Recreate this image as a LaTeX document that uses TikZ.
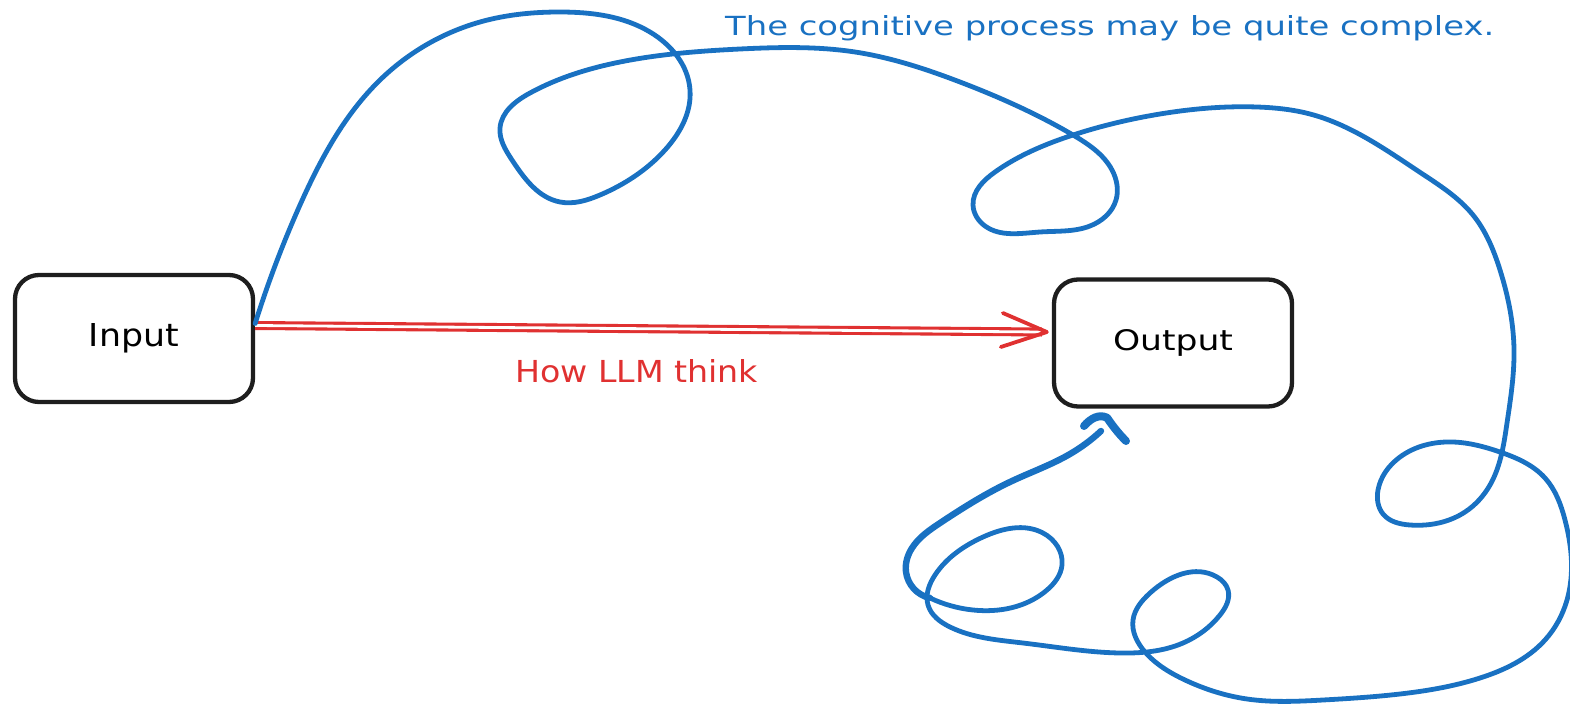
\documentclass[tikz,border=0pt]{standalone}
\usepackage{fontspec}
\setmainfont{DejaVu Sans}
\usepackage{graphicx}
\usetikzlibrary{hobby}
\definecolor{inkblack}{HTML}{1E1E1E}
\definecolor{penblue}{HTML}{1971C2}
\definecolor{penred}{HTML}{E03131}
\begin{document}
\begin{tikzpicture}[x=1pt,y=-1pt,
  box/.style={draw=inkblack, line width=4.3pt, rounded corners=24pt,
              minimum width=238pt, minimum height=127pt, inner sep=0pt, fill=white},
  thought/.style={draw=penblue, line width=4.8pt, line cap=round, line join=round, use Hobby shortcut},
  thoughtend/.style={thought, line width=6.4pt},
  direct/.style={draw=penred, double=white, double distance=2.8pt, line width=3.1pt},
  directtip/.style={draw=penred, line width=3.8pt, line cap=round, line join=round},
  caption/.style={anchor=base west, inner sep=0pt}]
\useasboundingbox (0,0) rectangle (1570,706);

% the two boxes
\node[box] (in)  at (134,338.5) {\resizebox{90pt}{23pt}{Input}};
\node[box] (out) at (1173,343)  {\resizebox{120pt}{21pt}{Output}};

% texts
\node[caption, text=penblue] (note) at (725,36)
  {\resizebox{769pt}{20pt}{The cognitive process may be quite complex.}};
\node[caption, text=penred] (how) at (515,382)
  {\resizebox{243pt}{23pt}{How LLM think}};

% end points of the connectors
\coordinate (bs)  at ([yshift=15pt]in.east);
\coordinate (bt)  at ([xshift=-66pt,yshift=-9pt]out.south);
\coordinate (rs)  at ([yshift=13pt]in.east);
\coordinate (rt)  at ([xshift=-5pt,yshift=11pt]out.west);

% the direct route: double red arrow
\draw[direct] (rs) -- ([xshift=-5pt]rt);
\draw[directtip] (rt) ++(-44pt,19pt) -- (rt) -- ++(-46pt,-15pt);

% the winding route
\draw[thought] (bs) .. (300,205) .. (380,80) .. (480,22) .. (560,12)
  .. (650,32) .. (690,90) .. (665,150) .. (600,195) .. (560,202)
  .. (512,160) .. (500,128) .. (530,93) .. (620,62) .. (740,49)
  .. (855,52) .. (960,82) .. (1073,135) .. (1112,170) .. (1116,200)
  .. (1090,226) .. (1040,232) .. (985,226) .. (973,205) .. (995,172)
  .. (1073,135) .. (1160,114) .. (1257,107) .. (1310,114) .. (1421,173)
  .. (1473,215) .. (1500,270) .. (1514,350) .. (1507,423) .. (1490,485)
  .. (1465,512) .. (1410,525) .. (1383,514) .. (1378,490) .. (1400,457)
  .. (1453,442) .. (1500,452) .. (1545,478) .. (1565,520) .. (1567,600)
  .. (1545,640) .. (1480,678) .. (1400,694) .. (1323,700) .. (1247,699)
  .. (1185,680) .. (1145,652) .. (1133,620) .. (1150,593) .. (1217,577)
  .. (1228,590) .. (1220,615) .. (1183,643) .. (1120,653) .. (1023,643)
  .. (950,627) .. (928,605) .. (935,575) .. (983,537) .. (1043,533)
  .. (1062,565) .. (1047,590) .. (973,610) .. (930,598);
\draw[thoughtend] (930,598) .. (906,572) .. (912,548) .. (940,523)
  .. (1012,481) .. (1070,454) .. (1101,431);
\draw[thoughtend, line width=8pt, use Hobby shortcut=false] (1084,426)
  .. controls (1091,418) and (1099,414) .. (bt)
  .. controls (1112,425) and (1118,433) .. (1126,441);
\end{tikzpicture}
\end{document}
